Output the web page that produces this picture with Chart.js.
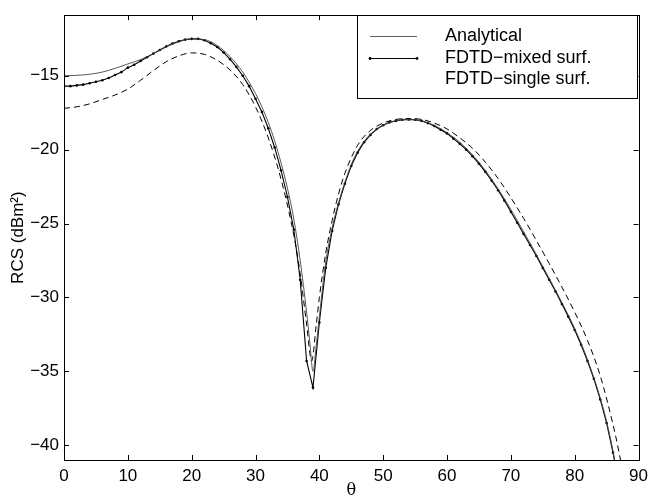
<!DOCTYPE html>
<html><head><meta charset="utf-8">
<script src="https://cdn.jsdelivr.net/npm/chart.js@4/dist/chart.umd.min.js"></script>
<style>html,body{margin:0;padding:0;background:#fff}#wrap{width:654px;height:499px}</style>
</head><body><div id="wrap"><canvas id="c" width="654" height="499"></canvas></div>
<script>
// ---- data ----
const analyticalTheta = [0,2,4,6,8,10,12,14,16,18,20,22,24,26,28,30,31,32,33,34,35,36,37,38,38.5,39,39.5,40,41,42,43,44,45,46,47,48,50,52,54,56,58,60,62,64,66,68,70,72,74,76,78,80,82,84,85,86,87];
const analyticalRCS   = [-15.0,-14.97,-14.9,-14.75,-14.5,-14.2,-13.9,-13.5,-13.05,-12.7,-12.5,-12.55,-12.95,-13.7,-14.75,-16.2,-17.1,-18.15,-19.4,-20.9,-22.6,-24.7,-27.5,-31.0,-33.0,-35.0,-33.3,-31.3,-27.6,-25.3,-23.6,-22.2,-21.0,-20.1,-19.45,-18.95,-18.35,-18.05,-17.95,-18.05,-18.35,-18.85,-19.5,-20.35,-21.4,-22.65,-24.05,-25.55,-27.1,-28.7,-30.35,-32.1,-34.2,-36.8,-38.4,-40.4,-42.8];

const mixedTheta = [0,1,2,3,4,5,6,7,8,9,10,11,12,13,14,15,16,17,18,19,20,21,22,23,24,25,26,27,28,29,30,31,32,33,34,35,36,37,38,39,40,41,42,43,44,45,46,47,48,49,50,51,52,53,54,55,56,57,58,59,60,61,62,63,64,65,66,67,68,69,70,71,72,73,74,75,76,77,78,79,80,81,82,83,84,85,86,87];
const mixedRCS   = [-15.7,-15.7,-15.65,-15.6,-15.5,-15.4,-15.3,-15.15,-14.95,-14.75,-14.45,-14.25,-14.0,-13.75,-13.5,-13.25,-13.02,-12.82,-12.66,-12.55,-12.5,-12.5,-12.6,-12.8,-13.05,-13.42,-13.88,-14.4,-15.0,-15.7,-16.55,-17.45,-18.55,-19.85,-21.4,-23.2,-25.4,-28.8,-34.3,-36.1,-31.7,-28.0,-25.5,-23.7,-22.3,-21.1,-20.2,-19.5,-19.0,-18.6,-18.35,-18.15,-18.05,-17.98,-17.95,-17.98,-18.05,-18.2,-18.4,-18.65,-18.9,-19.25,-19.6,-20.0,-20.45,-20.95,-21.5,-22.1,-22.75,-23.45,-24.2,-24.95,-25.7,-26.45,-27.2,-28.0,-28.8,-29.6,-30.45,-31.3,-32.2,-33.2,-34.3,-35.5,-36.9,-38.5,-40.5,-42.8];

const singleTheta = [0,2,4,6,8,10,12,14,16,18,20,22,24,26,28,30,32,34,36,37,38,38.8,39.5,40,41,42,43,44,46,48,50,52,54,56,58,60,62,64,66,68,70,72,74,76,78,80,82,84,86,87,88];
const singleRCS   = [-17.2,-17.1,-16.9,-16.6,-16.3,-15.9,-15.3,-14.65,-14.05,-13.65,-13.45,-13.55,-13.95,-14.6,-15.6,-17.1,-19.2,-22.0,-25.8,-28.4,-31.8,-34.3,-31.9,-30.0,-27.0,-24.8,-23.0,-21.6,-19.7,-18.7,-18.2,-17.95,-17.9,-17.95,-18.2,-18.6,-19.2,-19.9,-20.85,-21.95,-23.25,-24.65,-26.15,-27.7,-29.3,-31.0,-32.9,-35.3,-38.6,-40.6,-43.0];

const xTicks = [0,10,20,30,40,50,60,70,80,90];
const yTicks = [-40,-35,-30,-25,-20,-15];
const seriesNames = ['Analytical','FDTD\u2212mixed surf.','FDTD\u2212single surf.'];
const xTitle = '\u03b8';
const yTitle = 'RCS (dBm\u00b2)';

const toPts = (xs, ys) => xs.map((x, i) => ({x: x, y: ys[i]}));
const FONT = 'Liberation Sans, Arial, Helvetica, sans-serif';

const frame = {
  id: 'frame',
  afterDraw(chart) {
    const ctx = chart.ctx, a = chart.chartArea;
    const xs = chart.scales.x, ys = chart.scales.y;
    ctx.save();
    ctx.strokeStyle = '#000';
    ctx.lineWidth = 1;
    ctx.strokeRect(Math.round(a.left) + 0.5, Math.round(a.top) + 0.5, Math.round(a.right - a.left), Math.round(a.bottom - a.top));
    const tl = 5;
    ctx.beginPath();
    xTicks.forEach(v => {
      const px = Math.round(xs.getPixelForValue(v)) + 0.5;
      ctx.moveTo(px, a.bottom); ctx.lineTo(px, a.bottom - tl);
      ctx.moveTo(px, a.top); ctx.lineTo(px, a.top + tl);
    });
    yTicks.forEach(v => {
      const py = Math.round(ys.getPixelForValue(v)) + 0.5;
      ctx.moveTo(a.left, py); ctx.lineTo(a.left + tl, py);
      ctx.moveTo(a.right, py); ctx.lineTo(a.right - tl, py);
    });
    ctx.stroke();

    // legend box (inside the axes, top right)
    const lx = 357, ly = 15, lw = 280, lh = 83;
    ctx.fillStyle = '#fff';
    ctx.fillRect(lx, ly, lw, lh);
    ctx.strokeRect(lx + 0.5, ly + 0.5, lw, lh);
    ctx.font = '18px ' + FONT;
    ctx.fillStyle = '#000';
    ctx.textBaseline = 'middle';
    const rows = [36, 58, 79];
    rows.forEach((ry, i) => ctx.fillText(seriesNames[i], 445, ry));
    ctx.lineWidth = 0.8;
    ctx.strokeStyle = '#333';
    ctx.beginPath(); ctx.moveTo(370, rows[0] + 0.5); ctx.lineTo(417, rows[0] + 0.5); ctx.stroke();
    ctx.lineWidth = 1.1; ctx.strokeStyle = '#000';
    ctx.beginPath(); ctx.moveTo(370, rows[1] + 0.5); ctx.lineTo(417, rows[1] + 0.5); ctx.stroke();
    [370, 417].forEach(px => { ctx.beginPath(); ctx.arc(px, rows[1] + 0.5, 1.4, 0, Math.PI * 2); ctx.fill(); });
    ctx.restore();
  }
};

new Chart(document.getElementById('c'), {
  type: 'line',
  data: {
    datasets: [
      { label: seriesNames[0], data: toPts(analyticalTheta, analyticalRCS), borderColor: '#444', borderWidth: 0.9, pointRadius: 0, cubicInterpolationMode: 'monotone', fill: false },
      { label: seriesNames[1], data: toPts(mixedTheta, mixedRCS), borderColor: '#000', borderWidth: 1.1, pointRadius: 1.3, pointBackgroundColor: '#000', pointBorderWidth: 0, tension: 0, fill: false },
      { label: seriesNames[2], data: toPts(singleTheta, singleRCS), borderColor: '#000', borderWidth: 1, borderDash: [6, 4], pointRadius: 0, cubicInterpolationMode: 'monotone', fill: false }
    ]
  },
  options: {
    responsive: false,
    animation: false,
    layout: { padding: { top: 8, right: 10, left: 0, bottom: 0 } },
    plugins: { legend: { display: false }, tooltip: { enabled: false } },
    scales: {
      x: {
        type: 'linear', min: 0, max: 90,
        afterBuildTicks: s => { s.ticks = xTicks.map(v => ({value: v})); },
        afterFit: s => { s.height = 39; },
        grid: { display: false, drawTicks: false },
        border: { display: false },
        ticks: { color: '#000', font: { family: FONT, size: 17 }, padding: 6, maxRotation: 0, autoSkip: false },
        title: { display: true, text: xTitle, color: '#000', font: { family: 'DejaVu Serif, serif', size: 16, lineHeight: 1 }, padding: { top: 0, bottom: 0 } }
      },
      y: {
        type: 'linear', min: -41, max: -10.9,
        afterBuildTicks: s => { s.ticks = yTicks.map(v => ({value: v})); },
        afterFit: s => { s.width = 64; },
        grid: { display: false, drawTicks: false },
        border: { display: false },
        ticks: { color: '#000', font: { family: FONT, size: 17 }, padding: 5, callback: v => String(v).replace('-', '\u2212') },
        title: { display: true, text: yTitle, color: '#000', font: { family: FONT, size: 17, lineHeight: 1.2 }, padding: { top: 8, bottom: 0 } }
      }
    }
  },
  plugins: [frame]
});
</script>
</body></html>
